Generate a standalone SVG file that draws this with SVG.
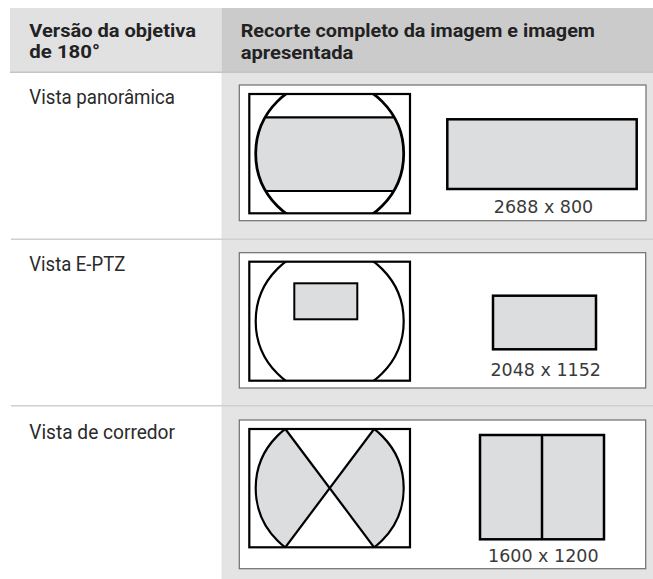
<svg xmlns="http://www.w3.org/2000/svg" width="653" height="579" viewBox="0 0 653 579">
<style>
.hd{font-family:"Liberation Sans Narrow","Roboto","Liberation Sans",sans-serif;font-weight:bold;font-size:18.5px;fill:#222}
.lb{font-family:"Liberation Sans Narrow","Roboto","Liberation Sans",sans-serif;font-size:20px;fill:#2a2a2a}
.dim{font-family:"DejaVu Sans",sans-serif;font-size:17.5px;fill:#3a3a3a;text-anchor:middle}
.panel{fill:#fff;stroke:#6e6e6e;stroke-width:1.2}
.ln{fill:none;stroke:#000;stroke-width:2.2}
.gr{fill:#dcdddf}
.sep{stroke:#cfcfcf;stroke-width:1.5}
</style>
<defs>
<clipPath id="c1"><circle cx="329.7" cy="153.7" r="74"/></clipPath>
<clipPath id="b1"><rect x="249.3" y="94" width="160.7" height="119.3"/></clipPath>
<clipPath id="b2"><rect x="249.3" y="261.7" width="160.7" height="119"/></clipPath>
<clipPath id="c3"><circle cx="329.7" cy="488.2" r="74"/></clipPath>
<clipPath id="b3"><rect x="249.3" y="429" width="160.7" height="118.3"/></clipPath>
</defs>
<rect width="653" height="579" fill="#fff"/>
<g id="header">
<rect x="10" y="8" width="211.5" height="64" fill="#e1e1e2"/>
<rect x="221.5" y="8" width="431.5" height="64" fill="#cbcbcc"/>
<line x1="10" y1="72.3" x2="653" y2="72.3" stroke="#c4c4c4" stroke-width="1.5"/>
<text class="hd"><tspan x="29.3" y="36.5" textLength="166.7" lengthAdjust="spacingAndGlyphs">Versão da objetiva</tspan><tspan x="29.3" y="58.3" textLength="70.7" lengthAdjust="spacingAndGlyphs">de 180°</tspan></text>
<text class="hd"><tspan x="240.7" y="37" textLength="354.3" lengthAdjust="spacingAndGlyphs">Recorte completo da imagem e imagem</tspan><tspan x="240.7" y="58.8" textLength="112.7" lengthAdjust="spacingAndGlyphs">apresentada</tspan></text>
</g>
<rect x="221.5" y="73" width="431.5" height="506" fill="#e4e4e5"/>
<g id="separators">
<line class="sep" x1="11" y1="239.3" x2="653" y2="239.3"/>
<line class="sep" x1="11" y1="405.7" x2="653" y2="405.7"/>
</g>
<g id="row1">
<text class="lb" x="29.3" y="104.3" textLength="145.7" lengthAdjust="spacingAndGlyphs">Vista panorâmica</text>
<rect class="panel" x="239.3" y="85" width="406.7" height="135.7"/>
<rect x="249.3" y="94" width="160.7" height="119.3" fill="#fff"/>
<rect class="gr" x="255" y="117.3" width="150" height="73.7" clip-path="url(#c1)"/>
<circle cx="329.7" cy="153.7" r="74" fill="none" stroke="#000" stroke-width="2.8" clip-path="url(#b1)"/>
<line class="ln" x1="265.3" y1="117.3" x2="394.1" y2="117.3"/>
<line class="ln" x1="265.8" y1="191" x2="393.6" y2="191"/>
<rect class="ln" x="249.3" y="94" width="160.7" height="119.3"/>
<rect class="gr" x="447.3" y="119.3" width="189.4" height="69.7" stroke="#000" stroke-width="2.5"/>
<text class="dim" x="543.5" y="212.7">2688 x 800</text>
</g>
<g id="row2">
<text class="lb" x="29.3" y="270.7" textLength="96" lengthAdjust="spacingAndGlyphs">Vista E-PTZ</text>
<rect class="panel" x="239.3" y="252.7" width="406.4" height="135.3"/>
<rect x="249.3" y="261.7" width="160.7" height="119" fill="#fff"/>
<circle cx="329.7" cy="321.2" r="74" class="ln" clip-path="url(#b2)"/>
<rect class="ln" x="249.3" y="261.7" width="160.7" height="119"/>
<rect class="gr" x="294.3" y="283.3" width="63" height="36" stroke="#000" stroke-width="2"/>
<rect class="gr" x="493" y="295.7" width="103" height="53.6" stroke="#000" stroke-width="2.5"/>
<text class="dim" x="545.7" y="376">2048 x 1152</text>
</g>
<g id="row3">
<text class="lb" x="29.3" y="439.3" textLength="145.7" lengthAdjust="spacingAndGlyphs">Vista de corredor</text>
<rect class="panel" x="239.3" y="420" width="406.4" height="148.7"/>
<rect x="249.3" y="429" width="160.7" height="118.3" fill="#fff"/>
<polygon class="gr" points="249,429 285.3,429 329.7,488.2 285.3,547.3 249,547.3" clip-path="url(#c3)"/>
<polygon class="gr" points="411,429 374.1,429 329.7,488.2 374.1,547.3 411,547.3" clip-path="url(#c3)"/>
<circle cx="329.7" cy="488.2" r="74" class="ln" clip-path="url(#b3)"/>
<line class="ln" x1="285.3" y1="429" x2="374.1" y2="547.3"/>
<line class="ln" x1="374.1" y1="429" x2="285.3" y2="547.3"/>
<rect class="ln" x="249.3" y="429" width="160.7" height="118.3"/>
<rect class="gr" x="480" y="435" width="124" height="104.3" stroke="#000" stroke-width="2.5"/>
<line x1="542" y1="435" x2="542" y2="539.3" stroke="#000" stroke-width="2.5"/>
<text class="dim" x="543.3" y="561.7">1600 x 1200</text>
</g>
</svg>
